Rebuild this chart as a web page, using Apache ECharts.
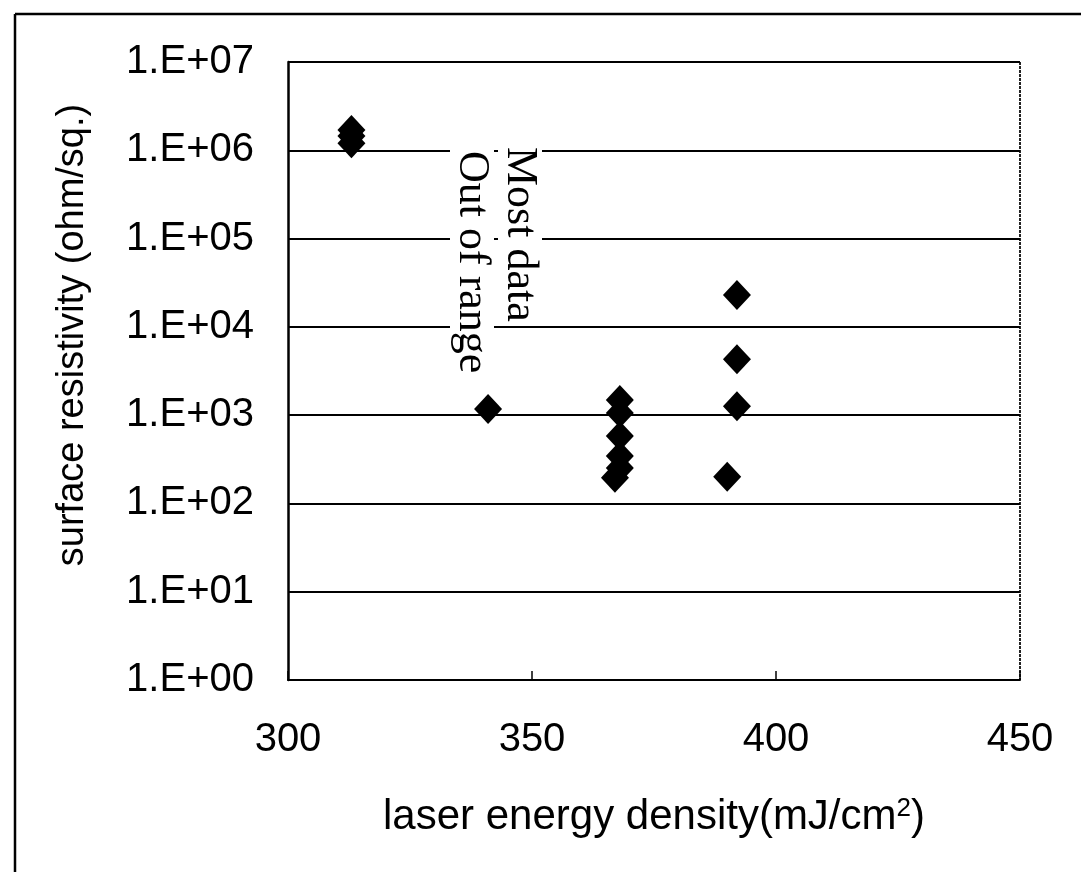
<!DOCTYPE html>
<html lang="en">
<head>
<meta charset="utf-8">
<script src="https://cdn.jsdelivr.net/npm/echarts@6/dist/echarts.min.js"></script>
<style>
  html, body { margin: 0; padding: 0; background: #fff; }
  #chart { width: 1081px; height: 872px; }
</style>
</head>
<body>
<div id="chart"></div>
<script>
// laser energy density (mJ/cm2) and surface resistivity (ohm/sq.)
var energy = [313, 313, 313, 341, 368, 368, 368, 368, 368, 367, 392, 392, 392, 390];
var resistivity = [1.2e6, 1.45e6, 1.7e6, 1.17e3, 1.48e3, 1.06e3, 580, 345, 252, 195, 2.3e4, 4.3e3, 1.26e3, 200];
var xTicks = [300, 350, 400, 450];
var note = ['Most data', 'Out of range'];

var points = energy.map(function (x, i) { return [x, resistivity[i]]; });

var chart = echarts.init(document.getElementById('chart'));
var font = 'Liberation Sans, Arial, sans-serif';
var serif = '44px "Liberation Serif", "Times New Roman", serif';

var option = {
    animation: false,
    grid: { left: 288, right: 61, top: 62, bottom: 192, outerBoundsMode: 'none' },
    xAxis: {
        type: 'value',
        min: xTicks[0], max: xTicks[xTicks.length - 1], interval: 50,
        name: 'laser energy density(mJ/cm{sup|2})',
        nameLocation: 'middle',
        nameGap: 116,
        nameTextStyle: {
            fontFamily: font, fontSize: 42, color: '#000',
            rich: { sup: { fontSize: 26, verticalAlign: 'top', padding: [0, 0, 16, 0], fontFamily: font, color: '#000' } }
        },
        axisLine: { lineStyle: { color: '#000', width: 2 } },
        axisTick: { inside: true, length: 9, lineStyle: { color: '#000', width: 1.5 } },
        axisLabel: { margin: 40, fontFamily: font, fontSize: 40, color: '#000' },
        splitLine: { show: false }
    },
    yAxis: {
        type: 'log',
        logBase: 10,
        min: 1, max: 1e7,
        axisLine: { lineStyle: { color: '#000', width: 2.5 } },
        axisTick: { show: false },
        axisLabel: {
            margin: 34, fontFamily: font, fontSize: 40, color: '#000',
            formatter: function (v) {
                var e = Math.round(Math.log10(v));
                return '1.E+' + (e < 10 ? '0' : '') + e;
            }
        },
        splitLine: { show: true, lineStyle: { color: '#000', width: 2 } }
    },
    graphic: [
        { type: 'line', shape: { x1: 15, y1: 14, x2: 1081, y2: 14 }, style: { stroke: '#000', lineWidth: 2.5 } },
        { type: 'line', shape: { x1: 15, y1: 14, x2: 15, y2: 872 }, style: { stroke: '#000', lineWidth: 2.5 } },
        { type: 'line', shape: { x1: 288, y1: 62, x2: 1020, y2: 62 }, style: { stroke: '#222', lineWidth: 2, lineDash: [3, 1] } },
        { type: 'line', shape: { x1: 1020, y1: 62, x2: 1020, y2: 680 }, style: { stroke: '#222', lineWidth: 2, lineDash: [3, 1] } },
        {
            type: 'text', x: 73, y: 335, rotation: Math.PI / 2,
            style: { text: 'surface resistivity (ohm/sq.)', font: '38px "Liberation Sans", Arial, sans-serif', fill: '#000', align: 'center', verticalAlign: 'middle' }
        },
        {
            type: 'text', x: 520, y: 143, rotation: -Math.PI / 2, z: 10,
            style: { text: note[0], font: serif, fill: '#000', backgroundColor: '#fff', padding: [0, 4], align: 'left', verticalAlign: 'middle' }
        },
        {
            type: 'text', x: 472, y: 147, rotation: -Math.PI / 2, z: 10,
            style: { text: note[1], font: serif, fill: '#000', backgroundColor: '#fff', padding: [0, 4], align: 'left', verticalAlign: 'middle' }
        }
    ],
    series: [{
        type: 'scatter',
        data: points,
        symbol: 'diamond',
        symbolSize: [28, 30],
        itemStyle: { color: '#000', opacity: 1 },
        z: 20
    }]
};

chart.setOption(option);
</script>
</body>
</html>
